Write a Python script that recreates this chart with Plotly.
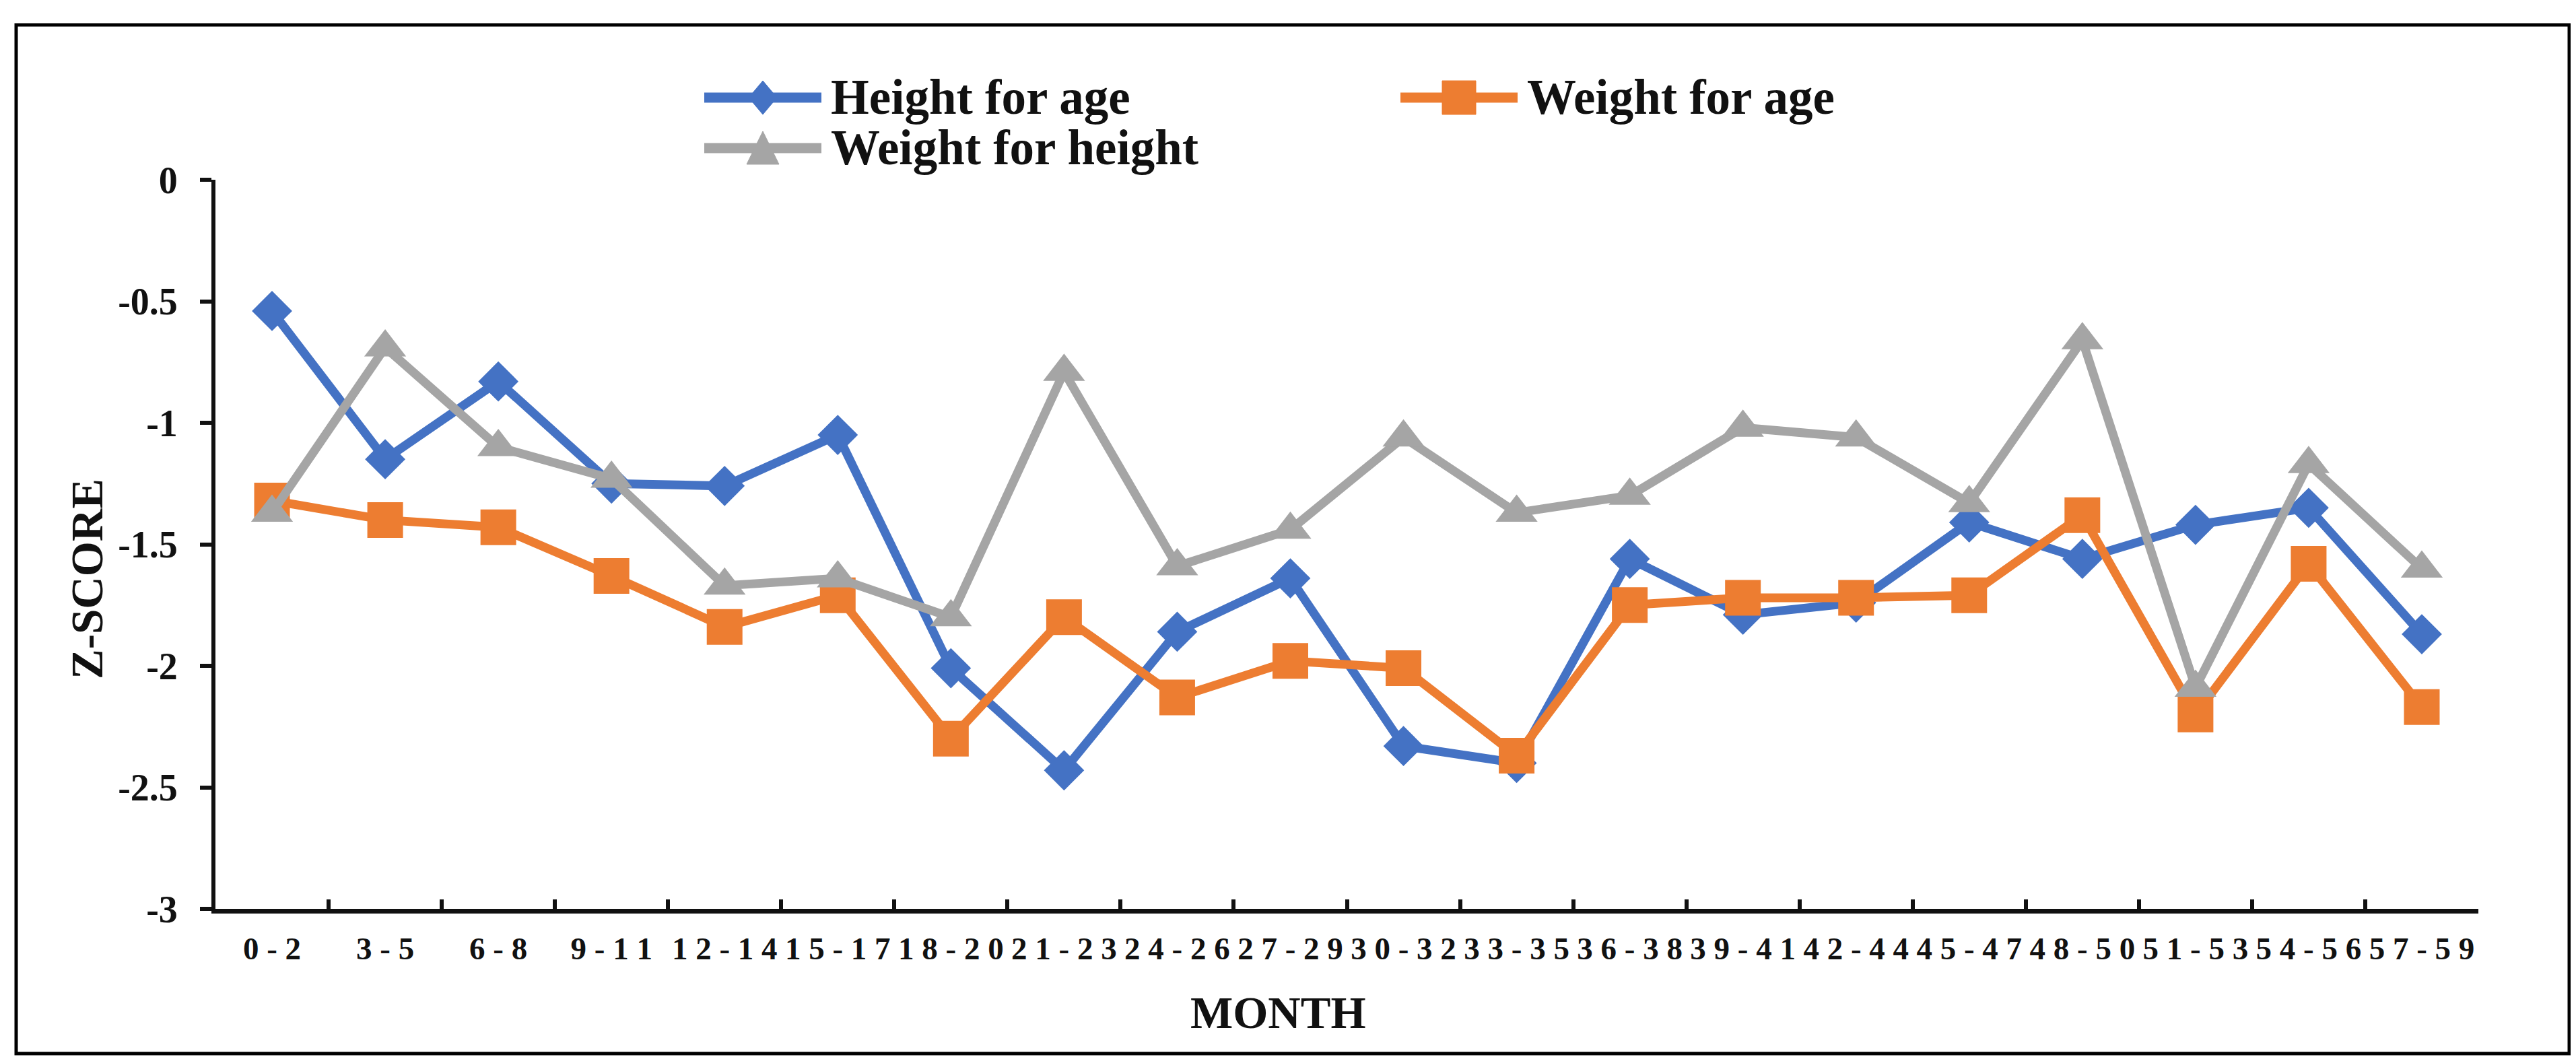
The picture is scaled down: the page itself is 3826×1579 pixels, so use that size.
import plotly.graph_objects as go

# ---------------- data ----------------
months = ["0-2", "3-5", "6-8", "9-11", "12-14", "15-17", "18-20", "21-23", "24-26", "27-29",
          "30-32", "33-35", "36-38", "39-41", "42-44", "45-47", "48-50", "51-53", "54-56", "57-59"]
height_for_age = [-0.54, -1.15, -0.83, -1.25, -1.26, -1.05, -2.01, -2.43, -1.86, -1.64,
                  -2.33, -2.40, -1.56, -1.79, -1.74, -1.41, -1.56, -1.42, -1.35, -1.87]
weight_for_age = [-1.32, -1.40, -1.43, -1.63, -1.84, -1.71, -2.30, -1.80, -2.13, -1.98,
                  -2.01, -2.37, -1.75, -1.72, -1.72, -1.71, -1.38, -2.20, -1.58, -2.17]
weight_for_height = [-1.37, -0.69, -1.10, -1.23, -1.67, -1.64, -1.80, -0.79, -1.59, -1.44,
                     -1.06, -1.37, -1.30, -1.02, -1.06, -1.33, -0.66, -2.09, -1.17, -1.60]
y_ticks = [0, -0.5, -1, -1.5, -2, -2.5, -3]
y_tick_labels = ["0", "-0.5", "-1", "-1.5", "-2", "-2.5", "-3"]

series_names = ["Height for age", "Weight for age", "Weight for height"]
series_values = [height_for_age, weight_for_age, weight_for_height]
colors = ["#4472C4", "#ED7D31", "#A5A5A5"]
symbols = ["diamond", "square", "triangle-up"]
marker_sizes = [46, 53, 54]

# spaced tick labels (the original uses expanded character spacing)
x_labels = [" ".join(m) for m in months]

FONT = "Liberation Serif"
W, H = 3826, 1579
L, R, T, B = 312, 153, 259, 237
PW, PH = W - L - R, H - T - B


def px_x(px):
    return (px - L) / PW


def px_y(py):
    return (H - B - py) / PH


fig = go.Figure()
for name, vals, col, sym, ms in zip(series_names, series_values, colors, symbols, marker_sizes):
    fig.add_trace(go.Scatter(
        x=x_labels, y=vals, name=name, mode="lines+markers",
        line=dict(color=col, width=13),
        marker=dict(symbol=sym, size=ms, color=col, line=dict(width=0)),
        showlegend=False,
    ))

shapes = []
annotations = []

# outer frame
shapes.append(dict(type="rect", xref="paper", yref="paper",
                   x0=px_x(16), x1=px_x(3808), y0=px_y(1557), y1=px_y(29),
                   line=dict(color="black", width=5), fillcolor="rgba(0,0,0,0)", layer="below"))

# custom legend (two columns)
legend_pos = [(1038, 137), (2072, 137), (1038, 212)]
marker_paths = {
    "diamond": "M0,25 L21,0 L0,-25 L-21,0 Z",
    "square": "M-25,25 L25,25 L25,-25 L-25,-25 Z",
    "triangle-up": "M0,25 L24,-24 L-24,-24 Z",
}
for (lx, ly), name, col, sym in zip(legend_pos, series_names, colors, symbols):
    shapes.append(dict(type="line", xref="paper", yref="paper",
                       x0=px_x(lx), x1=px_x(lx + 174), y0=px_y(ly), y1=px_y(ly),
                       line=dict(color=col, width=15)))
    shapes.append(dict(type="path", xref="paper", yref="paper",
                       xsizemode="pixel", ysizemode="pixel",
                       xanchor=px_x(lx + 87), yanchor=px_y(ly),
                       path=marker_paths[sym], fillcolor=col, line=dict(color=col, width=1)))
    annotations.append(dict(text=name, xref="paper", yref="paper",
                            x=px_x(lx + 186), y=px_y(ly), xanchor="left", yanchor="middle",
                            showarrow=False,
                            font=dict(family=FONT, size=73, color="#111111", weight="bold")))

# axis titles
annotations.append(dict(text="MONTH", xref="paper", yref="paper",
                        x=px_x(1890), y=px_y(1496), xanchor="center", yanchor="middle",
                        showarrow=False,
                        font=dict(family=FONT, size=67, color="#111111", weight="bold")))
annotations.append(dict(text="Z-SCORE", xref="paper", yref="paper",
                        x=px_x(121), y=px_y(852), xanchor="center", yanchor="middle",
                        textangle=-90, showarrow=False,
                        font=dict(family=FONT, size=67, color="#111111", weight="bold")))

fig.update_layout(
    width=W, height=H,
    margin=dict(l=L, r=R, t=T, b=B, pad=0),
    paper_bgcolor="white", plot_bgcolor="white",
    shapes=shapes, annotations=annotations,
    showlegend=False,
    xaxis=dict(
        type="category", categoryorder="array", categoryarray=x_labels,
        range=[-0.5, len(months) - 0.5],
        showline=True, linecolor="#111111", linewidth=7,
        ticks="inside", tickson="boundaries", ticklen=14, tickwidth=6, tickcolor="#111111",
        showgrid=False, zeroline=False, tickangle=0,
        tickfont=dict(family=FONT, size=47, color="#111111", weight="bold"),
        ticklabelstandoff=12,
    ),
    yaxis=dict(
        range=[-3, 0], tickmode="array", tickvals=y_ticks, ticktext=y_tick_labels,
        showline=True, linecolor="#111111", linewidth=6,
        ticks="outside", ticklen=17, tickwidth=6, tickcolor="#111111",
        showgrid=False, zeroline=False,
        tickfont=dict(family=FONT, size=56, color="#111111", weight="bold"),
        ticklabelstandoff=22,
    ),
)

fig.write_html("out.html")
